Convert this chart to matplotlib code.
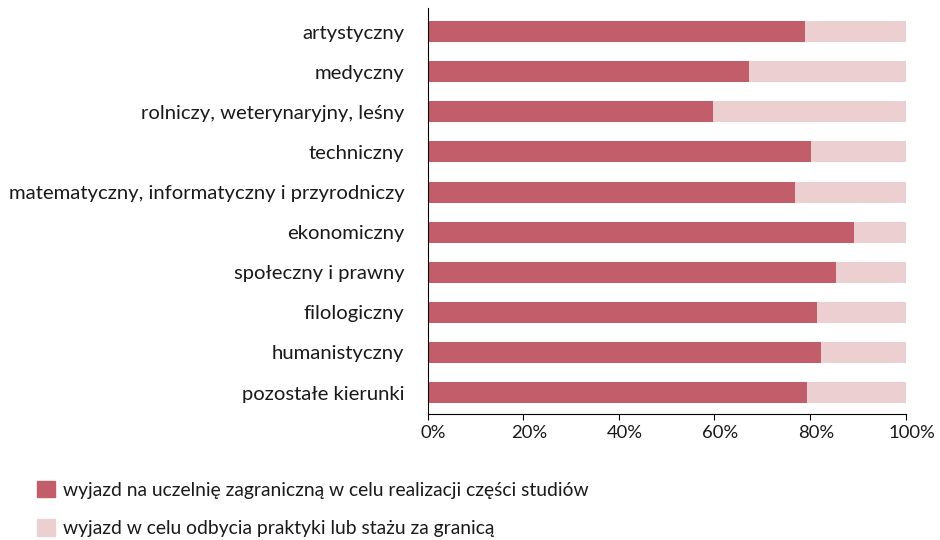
import numpy as np
import matplotlib
matplotlib.use("Agg")
from matplotlib import pyplot as plt
from matplotlib.patches import Patch
from matplotlib.ticker import PercentFormatter
from matplotlib.transforms import ScaledTranslation

plt.rcParams['font.family'] = ['Lato', 'DejaVu Sans']

kierunki = ["artystyczny", "medyczny", "rolniczy, weterynaryjny, leśny", "techniczny",
            "matematyczny, informatyczny i przyrodniczy", "ekonomiczny",
            "społeczny i prawny", "filologiczny", "humanistyczny", "pozostałe kierunki"]
uczelnia = np.array([79.0, 67.3, 59.7, 80.2, 76.9, 89.2, 85.5, 81.5, 82.3, 79.4])
praktyka = 100 - uczelnia

seria1 = "wyjazd na uczelnię zagraniczną w celu realizacji części studiów"
seria2 = "wyjazd w celu odbycia praktyki lub stażu za granicą"
kolor1 = "#C25E69"
kolor2 = "#ECCFD0"

fig = plt.figure(figsize=(9.4, 5.4), dpi=100)
ax = fig.add_axes([0.4548, 0.2333, 0.5085, 0.7517])

y = np.arange(len(kierunki))
ax.barh(y, uczelnia, height=0.525, color=kolor1)
ax.barh(y, praktyka, left=uczelnia, height=0.525, color=kolor2)

ax.set_xlim(0, 100)
ax.set_ylim(9.536, -0.587)
ax.set_yticks(y)
ax.set_yticklabels(kierunki, fontsize=14.6, color="#1a1a1a")
ax.tick_params(axis='y', length=0, pad=16.5)
ax.set_xticks([0, 20, 40, 60, 80, 100])
ax.xaxis.set_major_formatter(PercentFormatter(decimals=0))
ax.tick_params(axis='x', labelsize=13.3, length=4, pad=4, labelcolor="#1a1a1a")
przesun = ScaledTranslation(0.06, 0, fig.dpi_scale_trans)
for t in ax.get_xticklabels():
    t.set_transform(t.get_transform() + przesun)
for s in ['top', 'right']:
    ax.spines[s].set_visible(False)

uchwyty = [Patch(color=kolor1, label=seria1), Patch(color=kolor2, label=seria2)]
fig.legend(handles=uchwyty, loc='upper left', bbox_to_anchor=(37 / 940, 1 - 481 / 540),
           frameon=False, fontsize=13.9, handlelength=0.93, handleheight=0.93,
           handletextpad=0.42, labelspacing=1.06, borderaxespad=0, borderpad=0,
           labelcolor="#1a1a1a")

fig.savefig("out.png", dpi=100)
